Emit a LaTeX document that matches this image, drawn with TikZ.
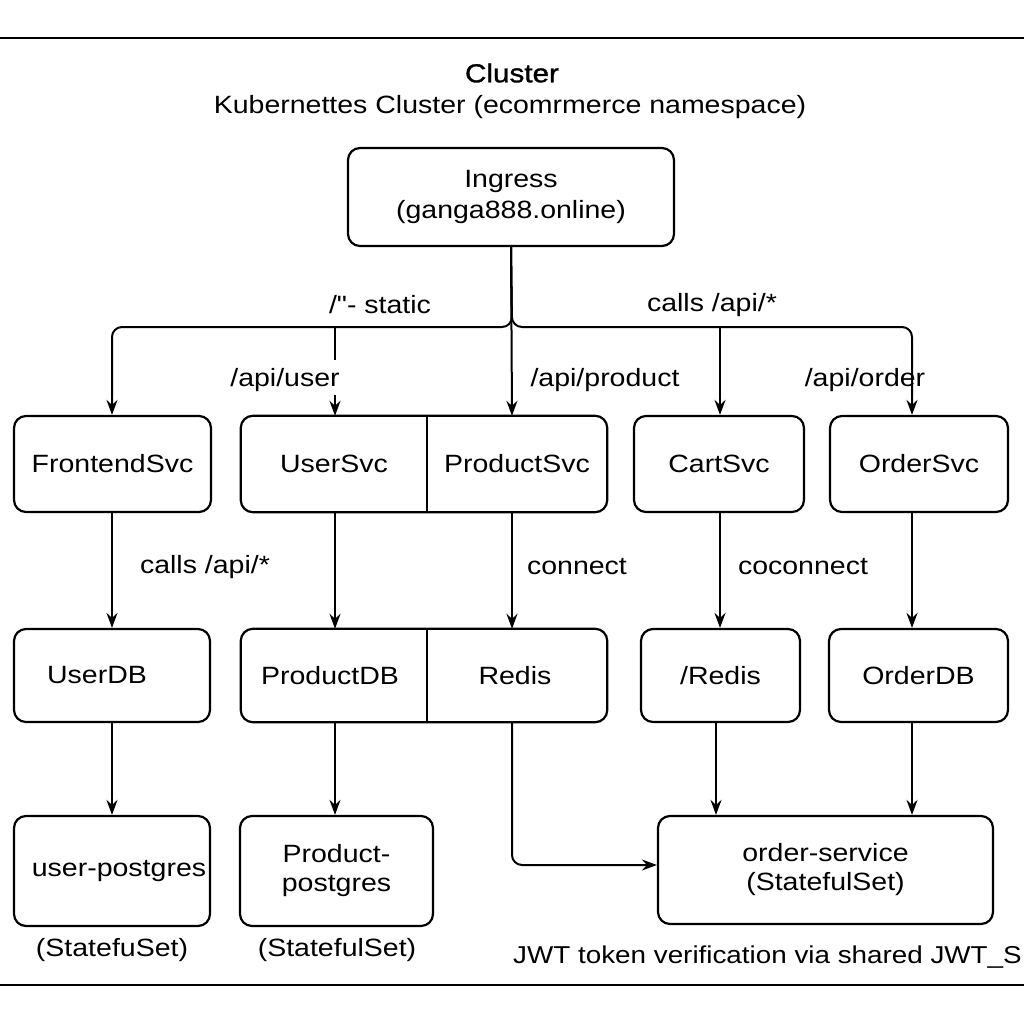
\documentclass[tikz,border=0pt]{standalone}
\usepackage{fontspec}
\setmainfont{Liberation Sans}[FakeStretch=1.14]
\newfontfamily\qfont{Liberation Sans}[FakeStretch=1.14]
\newfontfamily\tfont{Liberation Sans}[FakeStretch=1.14, FakeBold=1.2]
\usetikzlibrary{arrows.meta}
\begin{document}
\begin{tikzpicture}[x=1pt,y=-1pt,
  every node/.style={font=\fontsize{25}{32}\selectfont, inner sep=0pt, align=center},
  box/.style={draw, line width=2.2pt, rounded corners=12pt},
  conn/.style={line width=2pt},
  arr/.style={line width=2pt, -{Stealth[length=15pt,width=11pt,inset=5pt]}}]
\useasboundingbox (0,0) rectangle (1024,1024);
% frame lines
\coordinate (tl) at (0,38); \coordinate (tr) at (1024,38);
\coordinate (bl) at (0,985); \coordinate (br) at (1024,985);
\draw[line width=2.6pt] (tl) -- (tr);
\draw[line width=2.6pt] (bl) -- (br);
% title
\node (title) at (512,73) {\tfont\fontsize{26}{32}\selectfont Cluster};
\node (subtitle) at (510,107) {Kubernettes Cluster (ecomrmerce namespace)};
% columns
\coordinate (c1) at (112,0);
\coordinate (c2) at (335,0);
\coordinate (c3) at (512,0);
\coordinate (c4) at (720,0);
\coordinate (c4b) at (716,0);
\coordinate (c5) at (912,0);
\coordinate (hb) at (512,327);
% ingress
\node[box, minimum width=326pt, minimum height=98pt] (ingress) at (511,197) {\raisebox{-3pt}{Ingress}\\[2pt](ganga888.online)};
% row 1
\node[box, minimum width=197pt, minimum height=96pt] (frontend) at (112.5,464) {\raisebox{-2pt}{FrontendSvc}};
\node[minimum width=186pt, minimum height=96pt] (usersvc) at (334,464) {\raisebox{-2pt}{UserSvc}};
\node[minimum width=180pt, minimum height=96pt] (productsvc) at (517,464) {\raisebox{-2pt}{ProductSvc}};
\draw[line width=2.2pt, rounded corners=12pt] (usersvc.north west) rectangle (productsvc.south east);
\draw[line width=2.2pt] (usersvc.north east) -- (usersvc.south east);
\node[box, minimum width=170pt, minimum height=96pt] (cartsvc) at (719,464) {\raisebox{-2pt}{CartSvc}};
\node[box, minimum width=178pt, minimum height=96pt] (ordersvc) at (919,464) {\raisebox{-2pt}{OrderSvc}};
% row 2
\node[box, minimum width=196pt, minimum height=93pt] (userdb) at (112,675.5) {\raisebox{-2pt}{UserDB}\hspace{30pt}};
\node[minimum width=186pt, minimum height=93pt] (productdb) at (334,675.5) {\raisebox{-2pt}{ProductDB}\hspace{8pt}};
\node[minimum width=180pt, minimum height=93pt] (redis) at (517,675.5) {\raisebox{-2pt}{Redis}\hspace{4pt}};
\draw[line width=2.2pt, rounded corners=12pt] (productdb.north west) rectangle (redis.south east);
\draw[line width=2.2pt] (productdb.north east) -- (productdb.south east);
\node[box, minimum width=159pt, minimum height=93pt] (redis2) at (720.5,675.5) {/Redis};
\node[box, minimum width=179pt, minimum height=93pt] (orderdb) at (918.5,675.5) {\raisebox{-2pt}{OrderDB}};
% row 3
\node[box, minimum width=196pt, minimum height=110pt] (userpg) at (112,871) {\hspace{14pt}\raisebox{-4pt}{user-postgres}};
\node[box, minimum width=193pt, minimum height=110pt] (productpg) at (336.5,871) {\raisebox{-3pt}{Product-}\\postgres};
\node[box, minimum width=335pt, minimum height=108pt] (orderservice) at (825.5,870) {\raisebox{-3pt}{order-service}\\(StatefulSet)};
\node (ss1) at (112,950) {(StatefuSet)};
\node (ss2) at (337,950) {(StatefulSet)};
\node[anchor=east, font=\fontsize{24.4}{32}\selectfont] (jwt) at (1022,957) {JWT token verification via shared JWT\_S};
% ingress branches
\coordinate (ustop) at (335,360);
\coordinate (usstart) at (335,395);
\draw[arr, rounded corners=10pt] (ingress.south) -- (hb) -| (frontend.north -| c1);
\draw[arr, rounded corners=10pt] (ingress.south) -- (hb) -| (ordersvc.north -| c5);
\draw[arr] (ingress.south) -- (productsvc.north -| c3);
\draw[conn] (hb -| c2) -- (ustop);
\draw[arr] (usstart) -- (usersvc.north -| c2);
\draw[arr] (hb -| c4) -- (cartsvc.north -| c4);
\node (l1) at (380,305) {/{\qfont"}- static};
\node (l2) at (712,305) {calls /api/*};
\node (l3) at (285,380) {/api/user};
\node (l4) at (605,380) {/api/product};
\node (l5) at (865,380) {/api/order};
% row1 -> row2
\draw[arr] (frontend.south -| c1) -- (userdb.north -| c1);
\draw[arr] (usersvc.south -| c2) -- (productdb.north -| c2);
\draw[arr] (productsvc.south -| c3) -- (redis.north -| c3);
\draw[arr] (cartsvc.south -| c4) -- (redis2.north -| c4);
\draw[arr] (ordersvc.south -| c5) -- (orderdb.north -| c5);
\node (l6) at (205,567) {calls /api/*};
\node (l7) at (577,567) {connect};
\node (l8) at (803,567) {coconnect};
% row2 -> row3
\draw[arr] (userdb.south -| c1) -- (userpg.north -| c1);
\draw[arr] (productdb.south -| c2) -- (productpg.north -| c2);
\draw[arr, rounded corners=10pt] (redis.south -| c3) |- ([yshift=5pt]orderservice.west);
\draw[arr] (redis2.south -| c4b) -- (orderservice.north -| c4b);
\draw[arr] (orderdb.south -| c5) -- (orderservice.north -| c5);
\end{tikzpicture}
\end{document}
